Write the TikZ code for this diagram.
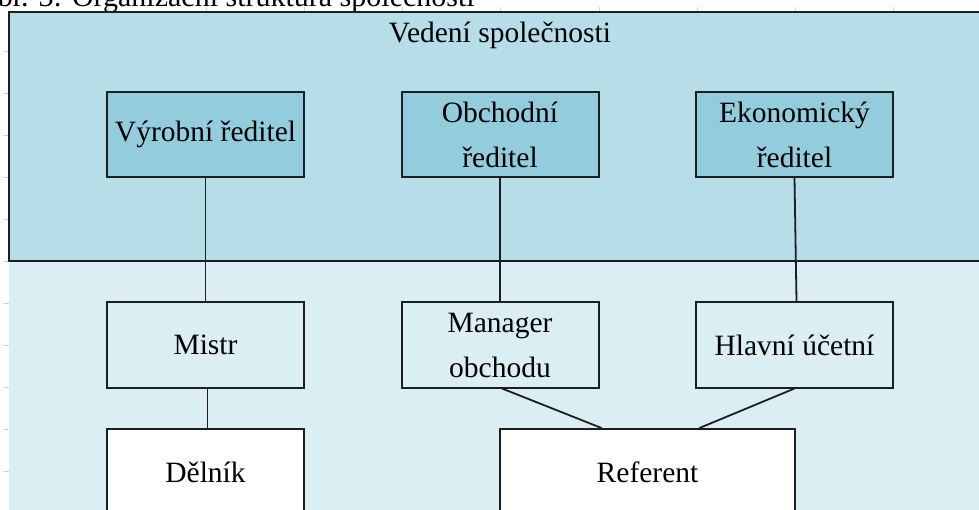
\documentclass[tikz,border=0pt]{standalone}
\usepackage{fontspec}
\setmainfont{Liberation Serif}
\definecolor{topbg}{HTML}{B7DDE8}
\definecolor{lowbg}{HTML}{DAEEF3}
\definecolor{headbox}{HTML}{93CDDD}
\definecolor{linec}{HTML}{1E1E1E}
\definecolor{tickc}{HTML}{CDD5E2}
\begin{document}
\begin{tikzpicture}[x=1pt,y=-1pt,
  box/.style={draw=linec, line width=2pt, minimum width=197pt, minimum height=85pt,
    inner sep=0pt, align=center, font=\fontsize{29.5}{45}\selectfont},
  headstyle/.style={box, fill=headbox},
  lowstyle/.style={box, fill=lowbg},
  whitestyle/.style={box, fill=white, minimum height=86pt},
  conn/.style={draw=linec, line width=1.8pt},
  tick/.style={draw=tickc, line width=1pt},
  txt/.style={font=\fontsize{29.5}{45}\selectfont, inner sep=0pt}]
\useasboundingbox (0,0) rectangle (979,510);
\clip (0,0) rectangle (979,510);
% ticks
\foreach \yy in {52,93.9,135.8,177.7,219.6,261.5,303.4,345.3,387.2,429.1,471} \draw[tick] (3,\yy) -- (9,\yy);
\foreach \xx in {108,206.2,304.4,402.6,500.8,599,697.2,795.4,893.6} \draw[tick] (\xx,7) -- (\xx,12);
% caption (cut off at top, as in the reference)
\node[anchor=base west, font=\fontsize{30}{36}\selectfont, inner sep=0pt] (cap) at (-24,7) {Obr. 3: Organizační struktura společnosti};
% regions
\fill[lowbg] (9,261) rectangle (990,520);
\draw[draw=linec, line width=2pt, fill=topbg] (9,12) rectangle (995,261);
\node[txt] (ved) at (500,35) {Vedení společnosti};
% boxes
\node[headstyle] (vr) at (205.5,134.5) {Výrobní ředitel};
\node[headstyle] (or) at (500,134.5) {Obchodní\\ředitel};
\node[headstyle] (er) at (794.5,134.5) {Ekonomický\\ředitel};
\node[lowstyle] (mi) at (205.5,345) {Mistr};
\node[lowstyle] (mo) at (500,345) {Manager\\obchodu};
\node[lowstyle] (hu) at (794.5,345) {Hlavní účetní};
\node[whitestyle] (de) at (205.5,472) {Dělník};
\node[whitestyle, minimum width=295pt] (re) at (647.5,472) {Referent};
% connectors
\draw[conn] (vr.south) -- (mi.north);
\draw[conn] (or.south) -- (mo.north);
\draw[conn] (er.south) -- ([xshift=2pt]hu.north);
\draw[conn] ([xshift=2pt]mi.south) -- ([xshift=2pt]de.north);
\draw[conn] ([xshift=2pt]mo.south) -- ([xshift=-46pt]re.north);
\draw[conn] (hu.south) -- ([xshift=52pt]re.north);
\end{tikzpicture}
\end{document}
